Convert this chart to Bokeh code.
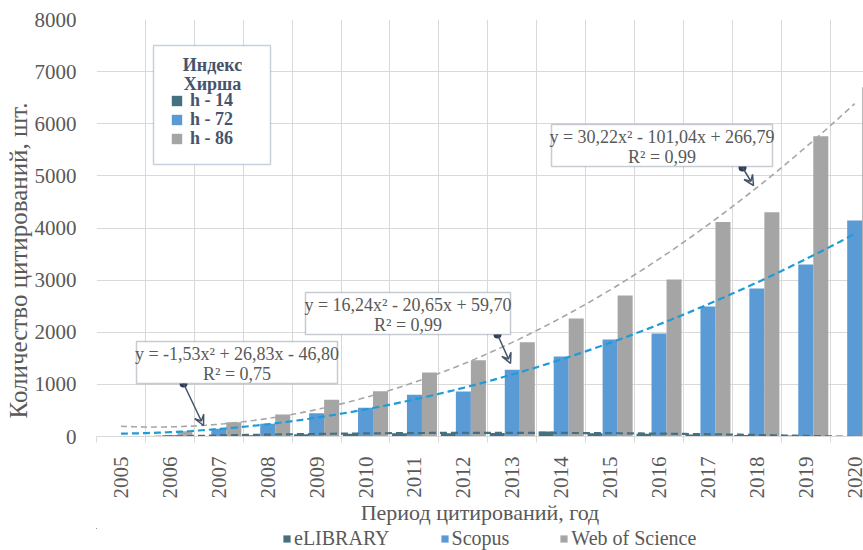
import numpy as np
from bokeh.plotting import figure
from bokeh.layouts import column
from bokeh.models import (FixedTicker, Legend, LegendItem, Label, BoxAnnotation,
                          Arrow, VeeHead, Range1d, Title)
from bokeh.embed import file_html
from bokeh.resources import INLINE

# ---------------- data ----------------
years = ["2005", "2006", "2007", "2008", "2009", "2010", "2011", "2012",
         "2013", "2014", "2015", "2016", "2017", "2018", "2019", "2020"]
elibrary = [0, 0, 5, 25, 45, 55, 60, 60, 65, 95, 60, 55, 40, 30, 20, 10]
scopus = [0, 30, 148, 244, 447, 551, 800, 864, 1280, 1535, 1862, 1977, 2495, 2840, 3300, 4146]
wos = [0, 100, 274, 422, 704, 870, 1230, 1465, 1810, 2265, 2706, 3013, 4113, 4300, 5758, 6700]
series_names = ["eLIBRARY", "Scopus", "Web of Science"]
h_labels = ["h - 14", "h - 72", "h - 86"]
elib_trend = [-1.53, 26.83, -46.80]
scopus_trend = [16.24, -20.65, 59.70]
wos_trend = [30.22, -101.04, 266.79]
trend_texts = [("y = -1,53x² + 26,83x - 46,80", "R² = 0,75"),
               ("y = 16,24x² - 20,65x + 59,70", "R² = 0,99"),
               ("y = 30,22x² - 101,04x + 266,79", "R² = 0,99")]

# ---------------- style ----------------
C_ELIB = "#44717F"
C_SCOP = "#5B9BD5"
C_WOS = "#A5A5A5"
C_ELIB_T = "#46707E"
C_SCOP_T = "#1E9CD7"
C_WOS_T = "#A6A6A6"
TXT = "#595959"
SLATE = "#44546A"
GRID = "#D9D9D9"
FONT = "Liberation Serif"

X0, X1 = -0.5, 15.18
Y0, Y1 = 0, 8000
W, H, HL = 863, 528, 22
FL, FR, FT, FB = 96, 863, 19, 436   # frame in page pixels


def dx(px):
    return X0 + (px - FL) / (FR - FL) * (X1 - X0)


def dy(py):
    return Y0 + (FB - py) / (FB - FT) * (Y1 - Y0)


p = figure(width=W, height=H, output_backend="svg", toolbar_location=None,
           x_range=Range1d(X0, X1), y_range=Range1d(Y0, Y1),
           min_border_left=FL, min_border_right=W - FR, min_border_top=FT,
           min_border_bottom=H - FB)
p.outline_line_color = None
p.background_fill_color = "white"

idx = np.arange(len(years))
bw = 0.307
r_e = p.vbar(x=idx - bw, top=elibrary, width=bw, fill_color=C_ELIB, line_color=None)
r_s = p.vbar(x=idx, top=scopus, width=bw, fill_color=C_SCOP, line_color=None)
r_w = p.vbar(x=idx + bw, top=wos, width=bw, fill_color=C_WOS, line_color=None)

xt = np.linspace(0, len(years) - 1, 200)
for coefs, col, lw, dash in [(wos_trend, C_WOS_T, 1.6, "6 4"),
                             (scopus_trend, C_SCOP_T, 2.2, "7 4"),
                             (elib_trend, C_ELIB_T, 2.2, "7 4")]:
    xx = xt + 1
    yt = coefs[0] * xx ** 2 + coefs[1] * xx + coefs[2]
    p.line(xt, yt, line_color=col, line_width=lw, line_dash=dash)

# axes
p.xaxis.ticker = FixedTicker(ticks=list(idx), minor_ticks=list(np.arange(-0.5, 16.0, 1.0)))
p.xaxis.major_label_overrides = {int(i): y for i, y in zip(idx, years)}
p.xaxis.major_label_orientation = np.pi / 2
p.xaxis.major_tick_line_color = None
p.xaxis.major_tick_out = 0
p.xaxis.minor_tick_line_color = GRID
p.xaxis.minor_tick_out = 6
p.xaxis.minor_tick_in = 0
p.xaxis.axis_line_color = GRID
p.xaxis.major_label_standoff = 14
p.xaxis.major_label_text_font = FONT
p.xaxis.major_label_text_font_size = "21px"
p.xaxis.major_label_text_color = TXT
p.xaxis.axis_label = "Период цитирований, год"
p.xaxis.axis_label_text_font = FONT
p.xaxis.axis_label_text_font_size = "22px"
p.xaxis.axis_label_text_font_style = "normal"
p.xaxis.axis_label_text_color = TXT
p.xaxis.axis_label_standoff = -2

p.yaxis.ticker = FixedTicker(ticks=list(range(0, 8001, 1000)))
p.yaxis.axis_line_color = None
p.yaxis.major_tick_line_color = None
p.yaxis.minor_tick_line_color = None
p.yaxis.major_tick_out = 0
p.yaxis.major_label_standoff = 20
p.yaxis.major_label_text_font = FONT
p.yaxis.major_label_text_font_size = "21px"
p.yaxis.major_label_text_color = TXT

p.xgrid.ticker = FixedTicker(ticks=list(np.arange(-0.5, 16.0, 1.0)))
p.xgrid.grid_line_color = GRID
p.ygrid.grid_line_color = GRID

# y-axis title (side panel title, starting a little above the frame bottom)
p.add_layout(Title(text="Количество цитирований, шт.", align="left", offset=18,
                   text_font=FONT, text_font_size="25px", text_font_style="normal",
                   text_color=TXT, standoff=0), "left")

# Hirsch index box
p.add_layout(BoxAnnotation(left=dx(153), right=dx(270), top=dy(45), bottom=dy(164),
                           fill_color="white", fill_alpha=1, line_color="#4A6A92",
                           line_width=1.5))
for txt, yy in [("Индекс", 64), ("Хирша", 83)]:
    p.add_layout(Label(x=dx(212), y=dy(yy), text=txt, text_align="center",
                       text_baseline="middle", text_font=FONT, text_font_size="18px",
                       text_font_style="bold", text_color=SLATE))
for lab, rend, yc in zip(h_labels, [r_e, r_s, r_w], [100, 119, 138]):
    p.add_layout(Legend(items=[LegendItem(label=lab, renderers=[rend])],
                        location=(170 - FL, FB - (yc + 11)), glyph_width=13,
                        glyph_height=13, label_standoff=7, padding=0, margin=0,
                        border_line_color=None, background_fill_alpha=0,
                        label_text_font=FONT, label_text_font_size="18px",
                        label_text_font_style="bold", label_text_color=SLATE,
                        label_height=13))

# trend callouts
boxes = [(136, 337, 341, 383), (305, 510, 292, 334), (551, 772, 124, 166)]
dots = [(183, 383), (497, 334), (742, 167)]
tips = [(203, 425), (510, 363), (753, 185)]
for (l, r, t, b), (dxp, dyp), (tx, ty), (l1, l2) in zip(boxes, dots, tips, trend_texts):
    p.add_layout(BoxAnnotation(left=dx(l), right=dx(r), top=dy(t), bottom=dy(b),
                               fill_color="white", fill_alpha=1, line_color=SLATE,
                               line_width=1.5))
    cx = dx((l + r) / 2)
    p.add_layout(Label(x=cx, y=dy(t + 12), text=l1, text_align="center",
                       text_baseline="middle", text_font=FONT, text_font_size="18px",
                       text_color=TXT))
    p.add_layout(Label(x=cx, y=dy(b - 10), text=l2, text_align="center",
                       text_baseline="middle", text_font=FONT, text_font_size="18px",
                       text_color=TXT))
    p.add_layout(Arrow(x_start=dx(dxp), y_start=dy(dyp), x_end=dx(tx), y_end=dy(ty),
                       line_color=SLATE, line_width=1.5,
                       end=VeeHead(size=10, line_color=SLATE, line_width=1.5,
                                   fill_color=None)))
    p.scatter(x=[dx(dxp)], y=[dy(dyp)], size=8, fill_color="#2E3B52", line_color=None)

# ---------------- bottom legend strip ----------------
# the series are re-plotted out of view (ranges far from the data) so that the
# legend can show their swatches in a separate strip below the chart
pl = figure(width=W, height=HL, output_backend="svg", toolbar_location=None,
            x_axis_type=None, y_axis_type=None, x_range=Range1d(100, 101),
            y_range=Range1d(-2, -1), min_border=0)
pl.outline_line_color = None
pl.xgrid.visible = False
pl.ygrid.visible = False
icons = [pl.vbar(x=idx, top=vals, width=bw, fill_color=c, line_color=None)
         for vals, c in ((elibrary, C_ELIB), (scopus, C_SCOP), (wos, C_WOS))]
pl.add_layout(Legend(items=[LegendItem(label=n, renderers=[r])
                            for n, r in zip(series_names, icons)],
                     orientation="horizontal", location=(282 - FL, 0),
                     glyph_width=9, glyph_height=9, label_standoff=3, spacing=50,
                     padding=0, margin=0, border_line_color=None,
                     background_fill_alpha=0, label_text_font=FONT,
                     label_text_font_size="20px", label_text_color=TXT,
                     label_height=20))

layout = column(p, pl, spacing=0)
open("out.html", "w").write(file_html(layout, INLINE))
